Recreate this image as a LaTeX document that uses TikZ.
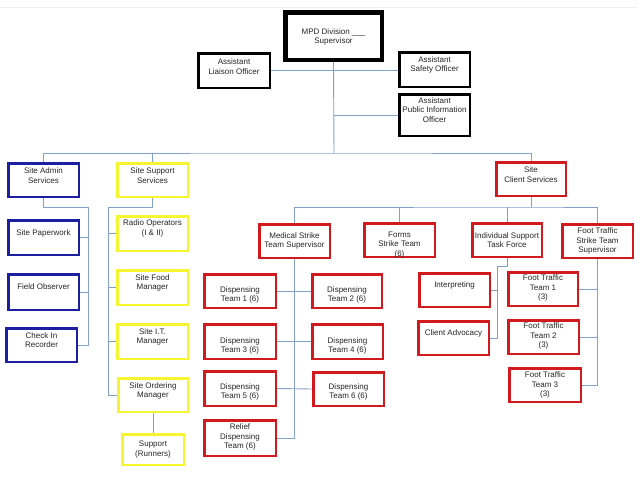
\documentclass[tikz,border=0pt]{standalone}
\usepackage{fontspec}
\setmainfont{Liberation Sans}
\definecolor{bxblue}{RGB}{30,30,160}
\definecolor{bxyellow}{RGB}{245,245,50}
\definecolor{bxred}{RGB}{210,25,30}
\definecolor{conn}{RGB}{130,160,200}
\tikzset{
  box/.style={draw, line width=2.5pt, inner sep=0pt, fill=white},
  bblack/.style={box, draw=black},
  bthick/.style={box, draw=black, line width=4.5pt},
  bblue/.style={box, draw=bxblue},
  byellow/.style={box, draw=bxyellow},
  bred/.style={box, draw=bxred},
  txt/.style={inner sep=0pt, align=center, text=black!85, font=\fontsize{8}{9.7}\selectfont},
  conline/.style={draw=conn, line width=0.9pt}
}
% name, style, x1, y1, x2, y2, text y, text
\newcommand\bx[8]{%
  \node[#2, minimum width={#5-#3-2.5}, minimum height={#6-#4-2.5}] (#1) at ({(#3+#5)/2},{(#4+#6)/2}) {};
  \node[txt] (#1t) at ({(#3+#5)/2},#7) {#8};
}
\begin{document}
\begin{tikzpicture}[x=1pt,y=-1pt]
\useasboundingbox (0,0) rectangle (638,479);
\draw[gray!12, line width=0.8pt] (0,7) -- (638,7);

% coordinates for buses
\coordinate (busTop) at (334,153);
\coordinate (aT) at (88,207);
\coordinate (sT) at (108,207);
\coordinate (cBus) at (531,207);
\coordinate (iT) at (497,266);

% connectors first (boxes drawn over)
% boxes
\bx{mpd}{bthick}{284}{11}{383}{61}{37}{MPD Division \_\_\_\\Supervisor}
\bx{liaison}{bblack}{197}{52}{271}{89}{66.5}{Assistant\\Liaison Officer}
\bx{safety}{bblack}{398}{51}{471}{88}{65}{Assistant\\Safety Officer}
\bx{pio}{bblack}{398}{93}{471}{137}{110}{Assistant\\Public Information\\Officer}

\bx{admin}{bblue}{7}{162}{80}{198}{175.5}{Site Admin\\Services}
\bx{paperwork}{bblue}{7}{219}{80}{256}{233}{Site Paperwork}
\bx{field}{bblue}{7}{273}{80}{311}{287}{Field Observer}
\bx{checkin}{bblue}{5}{327}{78}{363}{340}{Check In\\Recorder}

\bx{support}{byellow}{116}{162}{189}{198}{175.5}{Site Support\\Services}
\bx{radio}{byellow}{116}{215}{189}{252}{228.5}{Radio Operators\\(I \& II)}
\bx{food}{byellow}{116}{269}{189}{306}{283}{Site Food\\Manager}
\bx{it}{byellow}{116}{323}{189}{360}{337}{Site I.T.\\Manager}
\bx{ordering}{byellow}{117}{377}{189}{413}{391}{Site Ordering\\Manager}
\bx{runners}{byellow}{121}{433}{185}{466}{449.5}{Support\\(Runners)}

\bx{client}{bred}{495}{161}{567}{197}{174.5}{Site\\Client Services}
\bx{medical}{bred}{258}{223}{331}{259}{241}{Medical Strike\\Team Supervisor}
\bx{forms}{bred}{363}{222}{436}{258}{245}{Forms\\Strike Team\\(6)}
\bx{individual}{bred}{471}{222}{543}{258}{240}{Individual Support\\Task Force}
\bx{ftsup}{bred}{561}{223}{634}{259}{241}{Foot Traffic\\Strike Team\\Supervisor}

\bx{d1}{bred}{203}{273}{277}{309}{295}{Dispensing\\Team 1 (6)}
\bx{d2}{bred}{311}{273}{383}{309}{295}{Dispensing\\Team 2 (6)}
\bx{d3}{bred}{203}{323}{277}{360}{346}{Dispensing\\Team 3 (6)}
\bx{d4}{bred}{311}{323}{384}{360}{346}{Dispensing\\Team 4 (6)}
\bx{d5}{bred}{203}{370}{277}{407}{392}{Dispensing\\Team 5 (6)}
\bx{d6}{bred}{312}{371}{385}{407}{392}{Dispensing\\Team 6 (6)}
\bx{relief}{bred}{203}{419}{277}{457}{437}{Relief\\Dispensing\\Team (6)}

\bx{interp}{bred}{418}{272}{491}{308}{285}{Interpreting}
\bx{advocacy}{bred}{417}{320}{490}{356}{333}{Client Advocacy}
\bx{ft1}{bred}{507}{271}{579}{307}{288}{Foot Traffic\\Team 1\\(3)}
\bx{ft2}{bred}{507}{319}{580}{355}{336}{Foot Traffic\\Team 2\\(3)}
\bx{ft3}{bred}{508}{367}{582}{403}{385}{Foot Traffic\\Team 3\\(3)}

% connectors
\path[conline] (mpd.south) -- (busTop);
\path[conline] (liaison.east) -- (liaison.east -| safety.west);
\path[conline] (mpd.south |- pio.west) -- (pio.west);
\path[conline] (admin.north) |- (busTop) -| (client.north);
\path[conline] (support.north) -- (support.north |- busTop);

\path[conline] (admin.south) |- (aT) -- (aT |- checkin.east) -- (checkin.east);
\path[conline] (paperwork.east) -- (paperwork.east -| aT);
\path[conline] (field.east) -- (field.east -| aT);

\path[conline] (support.south) |- (sT) -- (sT |- ordering.west) -- (ordering.west);
\path[conline] (radio.west) -- (radio.west -| sT);
\path[conline] (food.west) -- (food.west -| sT);
\path[conline] (it.west) -- (it.west -| sT);
\path[conline] (ordering.south) -- (runners.north);

\path[conline] (client.south) -- (cBus);
\path[conline] (medical.north) |- (cBus) -| (ftsup.north);
\path[conline] (forms.north) -- (forms.north |- cBus);
\path[conline] (individual.north) -- (individual.north |- cBus);

\path[conline] (medical.south) |- (relief.east);
\path[conline] (d1.east) -- (d2.west);
\path[conline] (d3.east) -- (d4.west);
\path[conline] (d5.east) -- (d6.west);

\path[conline] (individual.south) |- (iT) |- (advocacy.east);
\path[conline] (interp.east) -- (interp.east -| iT);

\path[conline] (ftsup.south) |- (ft3.east);
\path[conline] (ft1.east) -- (ft1.east -| ftsup.south);
\path[conline] (ft2.east) -- (ft2.east -| ftsup.south);
\end{tikzpicture}
\end{document}
